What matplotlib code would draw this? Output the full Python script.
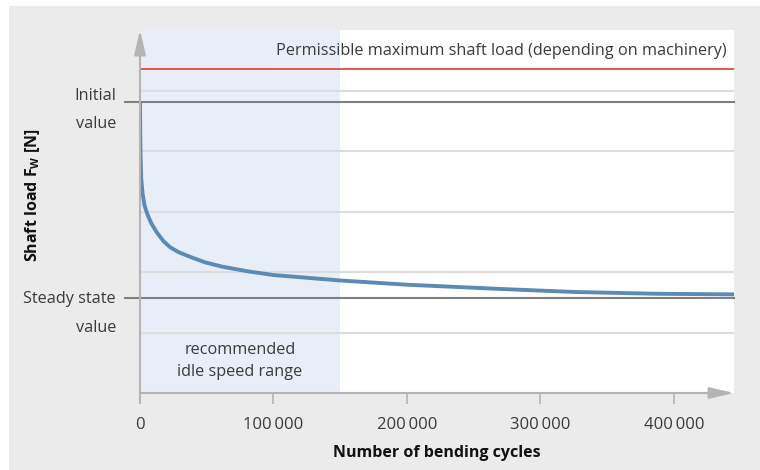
import matplotlib
matplotlib.use('Agg')
import matplotlib.pyplot as plt
from matplotlib.patches import Rectangle

plt.rcParams['font.family'] = ['Open Sans', 'DejaVu Sans']
plt.rcParams['mathtext.fontset'] = 'custom'
plt.rcParams['mathtext.rm'] = 'Open Sans'
plt.rcParams['mathtext.bf'] = 'Open Sans:bold'

# shaft load over bending cycles (relative units, 0..6)
cycles = [0, 150, 400, 900, 1900, 3400, 5600, 8600, 12700, 17600, 22500, 28700,
          38800, 48700, 61200, 81000, 99900, 149900, 199900, 269900, 324800,
          387300, 446000]
load = [4.81, 4.36, 3.92, 3.55, 3.30, 3.10, 2.95, 2.80, 2.65, 2.51, 2.41, 2.33,
        2.24, 2.16, 2.09, 2.01, 1.95, 1.86, 1.79, 1.72, 1.67,
        1.64, 1.63]

initial_value = 4.81
steady_value = 1.57
max_load = 5.35
idle_range_end = 150000
x_max = 445000
grid_levels = [1, 2, 3, 4, 5]
x_ticks = [0, 100000, 200000, 300000, 400000]
x_tick_labels = ['0', '100\u2009000', '200\u2009000', '300\u2009000', '400\u2009000']

axis_grey = '#b4b4b4'
text_col = '#3a3a3a'
fs = 11.7

fig = plt.figure(figsize=(7.6, 4.7), dpi=100, facecolor='white')
fig.patches.append(Rectangle((9 / 760, 0), 1, 1 - 6 / 470, transform=fig.transFigure,
                             facecolor='#ebebeb', edgecolor='none', zorder=-1))

ax = fig.add_axes([140 / 760, 1 - 393 / 470, 594 / 760, 363 / 470])
ax.set_zorder(2)
ax.set_facecolor('white')
ax.set_xlim(0, x_max)
ax.set_ylim(0, 6)
for s in ax.spines.values():
    s.set_visible(False)

# recommended idle speed range
ax.axvspan(0, idle_range_end, color='#e8eef8', zorder=1, lw=0)

for g in grid_levels:
    ax.axhline(g, color='#dcdcdc', lw=1.5, zorder=2)

ax.axhline(max_load, color='#e53935', lw=1.2, zorder=3)
for v in (initial_value, steady_value):
    ax.axhline(v, xmin=-15 / 594, xmax=1, color='#808080', lw=1.5, zorder=3, clip_on=False)

ax.plot(cycles, load, color='#5b8ab5', lw=2.8, zorder=4,
        solid_capstyle='butt', solid_joinstyle='round')

# axes with arrow heads
ax.annotate('', xy=(1, 0), xytext=(0, 0), xycoords='axes fraction',
            arrowprops=dict(arrowstyle='-|>,head_length=1.5,head_width=0.35',
                            color=axis_grey, lw=1.5, shrinkA=0, shrinkB=0), zorder=5)
ax.annotate('', xy=(0, 1), xytext=(0, -10 / 363), xycoords='axes fraction',
            arrowprops=dict(arrowstyle='-|>,head_length=1.5,head_width=0.35',
                            color=axis_grey, lw=1.5, shrinkA=0, shrinkB=0), zorder=5)

ax.set_xticks(x_ticks)
ax.set_xticklabels(x_tick_labels)
ax.set_yticks([])
ax.tick_params(axis='x', length=8, width=1.2, color=axis_grey, pad=9,
               labelsize=12, labelcolor=text_col)

ax.set_xlabel('Number of bending cycles', fontsize=11.5, fontweight='bold',
              color='#111111', labelpad=9)
fig.text(33 / 760, 1 - 195 / 470, 'Shaft load F$_{\\mathbf{W}}$ [N]', rotation=90,
         fontsize=11.5, fontweight='bold', color='#111111', ha='center', va='center')

# level labels on the left
ytrans = ax.get_yaxis_transform()
level_labels = [('Initial', initial_value, 2), ('value', initial_value, -26),
                ('Steady state', steady_value, -5), ('value', steady_value, -34)]
for label, level, dy in level_labels:
    ax.annotate(label, xy=(0, level), xycoords=ytrans, xytext=(-24, dy),
                textcoords='offset pixels', ha='right', va='baseline',
                fontsize=fs, color=text_col, annotation_clip=False)

ax.text(0.988, max_load + 0.31, 'Permissible maximum shaft load (depending on machinery)',
        transform=ytrans, ha='right', va='center', fontsize=fs, color=text_col)
ax.text(idle_range_end / 2, 0.53, 'recommended\nidle speed range', ha='center', va='center',
        fontsize=fs, color=text_col, linespacing=1.55)

fig.savefig('out.png', dpi=100, facecolor=fig.get_facecolor())
